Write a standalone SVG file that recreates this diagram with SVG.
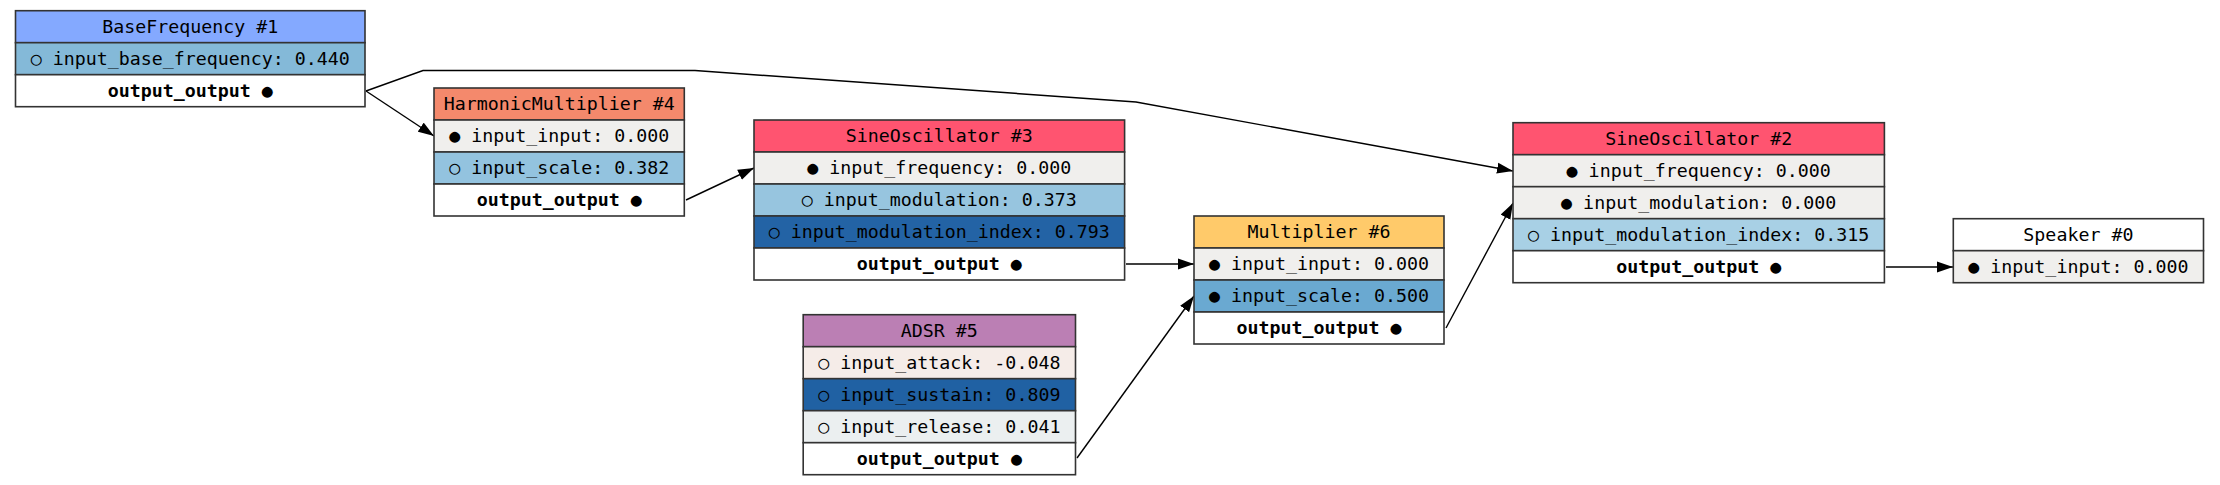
<svg xmlns="http://www.w3.org/2000/svg" width="2220" height="485" viewBox="0 0 2220 485">
<style>
  .cell { stroke: #333333; stroke-width: 1.6; }
  .t { font-family: "DejaVu Sans Mono", "Liberation Mono", monospace; font-size: 18.3px; text-anchor: middle; fill: #000000; }
  .b { font-weight: bold; }
  .edge { fill: none; stroke: #000000; stroke-width: 1.4; }
</style>
<defs>
  <marker id="arr" markerUnits="userSpaceOnUse" markerWidth="16" markerHeight="12" refX="16" refY="6" orient="auto">
    <path d="M0,0.5 L16,6 L0,11.5 z" fill="#000000"/>
  </marker>
</defs>
<rect width="2220" height="485" fill="#ffffff"/>

<g id="connectors">
  <path class="edge" marker-end="url(#arr)" d="M366,91 L434,136"/>
  <path class="edge" marker-end="url(#arr)" d="M366,91 L423,70.5 L695,70.5 L1136,102 L1513,171"/>
  <path class="edge" marker-end="url(#arr)" d="M686,200 L754,168"/>
  <path class="edge" marker-end="url(#arr)" d="M1126,264 L1194,264"/>
  <path class="edge" marker-end="url(#arr)" d="M1077,458 L1194,296"/>
  <path class="edge" marker-end="url(#arr)" d="M1446,328 L1513,203"/>
  <path class="edge" marker-end="url(#arr)" d="M1886,267 L1953,267"/>
</g>

<g id="node1">
  <rect class="cell" x="15.5" y="10.7" width="349.5" height="32" fill="#84a9ff"/>
  <rect class="cell" x="15.5" y="42.7" width="349.5" height="32" fill="#84b9d8"/>
  <rect class="cell" x="15.5" y="74.7" width="349.5" height="32" fill="#ffffff"/>
  <text class="t" x="190.25" y="32.7">BaseFrequency #1</text>
  <text class="t" x="190.25" y="64.7">○ input_base_frequency: 0.440</text>
  <text class="t b" x="190.25" y="96.7">output_output ●</text>
</g>

<g id="node4">
  <rect class="cell" x="434" y="88" width="250.3" height="32" fill="#f4896c"/>
  <rect class="cell" x="434" y="120" width="250.3" height="32" fill="#f0efed"/>
  <rect class="cell" x="434" y="152" width="250.3" height="32" fill="#93c3df"/>
  <rect class="cell" x="434" y="184" width="250.3" height="32" fill="#ffffff"/>
  <text class="t" x="559.2" y="110">HarmonicMultiplier #4</text>
  <text class="t" x="559.2" y="142">● input_input: 0.000</text>
  <text class="t" x="559.2" y="174">○ input_scale: 0.382</text>
  <text class="t b" x="559.2" y="206">output_output ●</text>
</g>

<g id="node3">
  <rect class="cell" x="754" y="120" width="370.6" height="32" fill="#ff5470"/>
  <rect class="cell" x="754" y="152" width="370.6" height="32" fill="#f0efed"/>
  <rect class="cell" x="754" y="184" width="370.6" height="32" fill="#97c5df"/>
  <rect class="cell" x="754" y="216" width="370.6" height="32" fill="#2363a5"/>
  <rect class="cell" x="754" y="248" width="370.6" height="32" fill="#ffffff"/>
  <text class="t" x="939.3" y="142">SineOscillator #3</text>
  <text class="t" x="939.3" y="174">● input_frequency: 0.000</text>
  <text class="t" x="939.3" y="206">○ input_modulation: 0.373</text>
  <text class="t" x="939.3" y="238">○ input_modulation_index: 0.793</text>
  <text class="t b" x="939.3" y="270">output_output ●</text>
</g>

<g id="node5">
  <rect class="cell" x="803.2" y="314.7" width="272.3" height="32" fill="#bb7fb4"/>
  <rect class="cell" x="803.2" y="346.7" width="272.3" height="32" fill="#f5ece8"/>
  <rect class="cell" x="803.2" y="378.7" width="272.3" height="32" fill="#2061a3"/>
  <rect class="cell" x="803.2" y="410.7" width="272.3" height="32" fill="#ebeff0"/>
  <rect class="cell" x="803.2" y="442.7" width="272.3" height="32" fill="#ffffff"/>
  <text class="t" x="939.35" y="336.7">ADSR #5</text>
  <text class="t" x="939.35" y="368.7">○ input_attack: -0.048</text>
  <text class="t" x="939.35" y="400.7">○ input_sustain: 0.809</text>
  <text class="t" x="939.35" y="432.7">○ input_release: 0.041</text>
  <text class="t b" x="939.35" y="464.7">output_output ●</text>
</g>

<g id="node6">
  <rect class="cell" x="1194" y="216" width="250" height="32" fill="#ffca6a"/>
  <rect class="cell" x="1194" y="248" width="250" height="32" fill="#f0efed"/>
  <rect class="cell" x="1194" y="280" width="250" height="32" fill="#6aa9d1"/>
  <rect class="cell" x="1194" y="312" width="250" height="32" fill="#ffffff"/>
  <text class="t" x="1319" y="238">Multiplier #6</text>
  <text class="t" x="1319" y="270">● input_input: 0.000</text>
  <text class="t" x="1319" y="302">● input_scale: 0.500</text>
  <text class="t b" x="1319" y="334">output_output ●</text>
</g>

<g id="node2">
  <rect class="cell" x="1513" y="122.7" width="371.4" height="32" fill="#ff5470"/>
  <rect class="cell" x="1513" y="154.7" width="371.4" height="32" fill="#f0efed"/>
  <rect class="cell" x="1513" y="186.7" width="371.4" height="32" fill="#f0efed"/>
  <rect class="cell" x="1513" y="218.7" width="371.4" height="32" fill="#a8d0e5"/>
  <rect class="cell" x="1513" y="250.7" width="371.4" height="32" fill="#ffffff"/>
  <text class="t" x="1698.7" y="144.7">SineOscillator #2</text>
  <text class="t" x="1698.7" y="176.7">● input_frequency: 0.000</text>
  <text class="t" x="1698.7" y="208.7">● input_modulation: 0.000</text>
  <text class="t" x="1698.7" y="240.7">○ input_modulation_index: 0.315</text>
  <text class="t b" x="1698.7" y="272.7">output_output ●</text>
</g>

<g id="node0">
  <rect class="cell" x="1953.3" y="218.7" width="250.2" height="32" fill="#ffffff"/>
  <rect class="cell" x="1953.3" y="250.7" width="250.2" height="32" fill="#f0efed"/>
  <text class="t" x="2078.4" y="240.7">Speaker #0</text>
  <text class="t" x="2078.4" y="272.7">● input_input: 0.000</text>
</g>
</svg>
